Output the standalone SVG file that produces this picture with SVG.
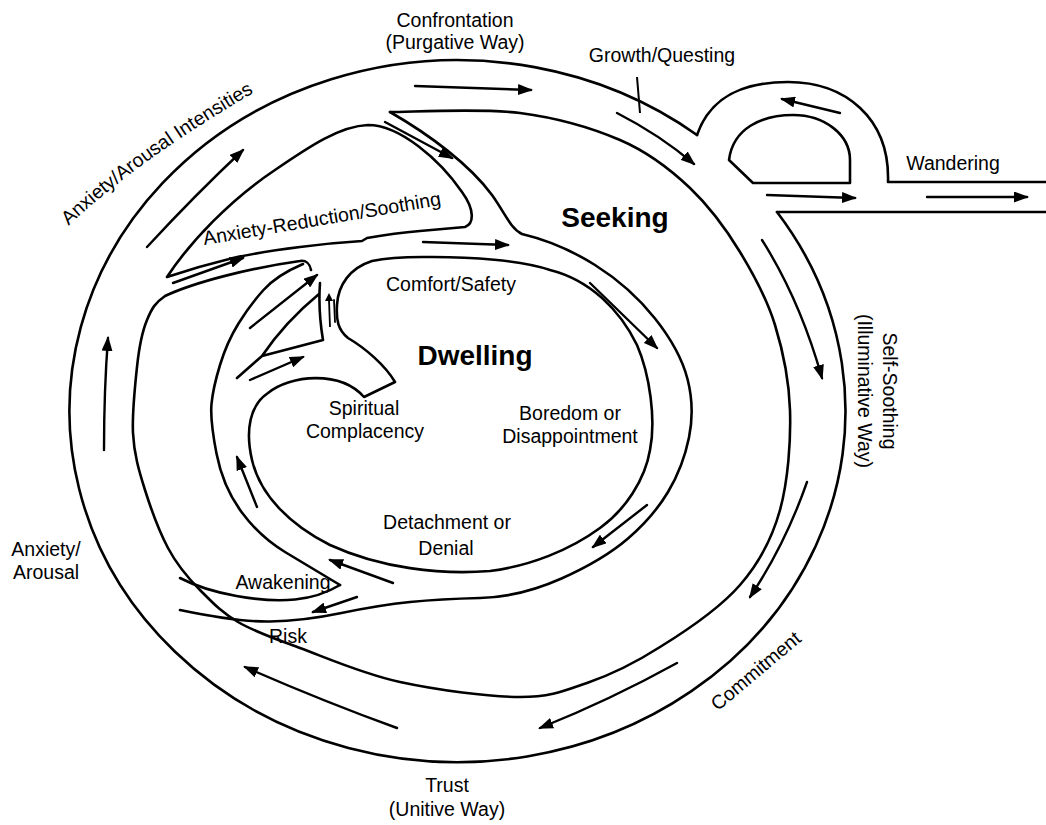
<svg xmlns="http://www.w3.org/2000/svg" width="1046" height="825" viewBox="0 0 1046 825">
<style>
.ln{fill:none;stroke:#000;stroke-width:2.6;stroke-linecap:round;stroke-linejoin:round}
.ar{fill:none;stroke:#000;stroke-width:2.4;stroke-linecap:round;marker-end:url(#ah)}
text{font-family:"Liberation Sans",Arial,sans-serif;font-size:19.5px;fill:#000;text-anchor:middle}
.b{font-weight:bold;font-size:28px}
</style>
<defs>
<marker id="ah" viewBox="0 0 15 11" refX="13" refY="5.5" markerWidth="15" markerHeight="11" markerUnits="userSpaceOnUse" orient="auto"><path d="M0,0 L15,5.5 L0,11 Z" fill="#000"/></marker>
<path id="tp1" d="M62,232 Q135,161 262,88"/>
</defs>
<rect width="1046" height="825" fill="#fff"/>

<g id="outer-track">
<path class="ln" d="M697,135 A388,351 0 1 0 777,212"/>
</g>
<g id="wandering">
<path class="ln" d="M697,135 C712,92 750,82 788,82 C845,82 890,118 888,182 L1046,182 M777,212 L1046,212"/>
<path class="ln" d="M753,183 L729,160 C733,128 762,115 793,115 C825,115 850,135 850,160 L850,183 Z"/>
</g>
<g id="seeking-ring">
<path class="ln" d="M390,112 C412,112 482,108 520,113 C558,118 592,128 620,140 C648,152 670,169 690,188 C710,207 726,229 740,252 C754,275 767,299 775,325 C783,351 789,379 790,410 C791,441 788,481 780,510 C772,539 760,562 740,585 C720,608 686,631 660,647 C635,663 610,675 587,683 C564,691 551,697 520,697 C489,697 437,690 400,682 C363,674 327,658 300,648 C273,638 255,632 238,622 C221,612 212,602 200,590 C188,578 177,565 168,548 C159,531 151,509 145,490 C139,471 134,454 133,433 C132,413 135,386 137,367 C139,348 142,332 147,320 C152,308 155,303 165,296 C195,282 250,268 300,261 C306,260 310,264 311,270"/>
</g>
<g id="channel">
<path class="ln" d="M390,112 C430,135 470,165 492,195 C505,213 510,228 522,234 Q560,243 595,265 Q630,287 655,318.5 Q680,350 687.5,379 Q695,408 689,437.5 Q683,467 668,492 Q653,517 628,538.5 Q603,560 561.5,578.5 Q520,597 480,598 Q440,599 410,602 Q380,605 341.5,613 Q303,621 270,621.5 Q237,622 180,610"/>
<path class="ln" d="M340,585 Q310,567 285,552 Q260,537 241.5,512 Q223,487 216.5,453.5 Q210,420 211.5,404 Q213,388 220,365 Q227,342 238.5,323.5 Q250,305 263.5,290 Q277,275 303,264"/>
<path class="ln" d="M180,578 Q203,590 236.5,596 Q270,602 295,599.5 Q320,597 340,585"/>
</g>
<g id="anxiety-reduction">
<path class="ln" d="M167,277 C190,242 230,200 275,170 C310,146 340,126 368,125 C400,125 440,160 462,192 C475,210 474,224 465,227 L420,231 Q395,233 367,238 L362,241 Q330,243 300,247 Q260,252 233,258 Q200,266 167,277 Z"/>
</g>
<g id="dwelling">
<path class="ln" d="M395,382 C385,365 365,348 348,338 C338,330 336,320 337,305 C338,285 350,268 372,261 C395,256 420,257 433,257 C470,257 520,260 550,270 C590,280 620,310 637,345 C650,375 656,420 650,450 C645,480 625,510 600,528 C570,550 530,566 490,571 C440,575 380,568 330,545 C290,525 260,495 252,460 C245,430 250,405 268,393 C290,375 340,370 364,397 Z"/>
</g>
<g id="complacency-branch">
<path class="ln" d="M320,283 Q318,310 323,340 L262,356 L237,378 M262,356 Q285,322 319,294"/>
<path class="ln" style="stroke-width:1.8" d="M335,322 L334,300"/>
</g>

<g id="connectors">
<path class="ar" d="M415,86 L531,90"/>
<path class="ar" d="M617,113 Q660,135 694,164"/>
<path class="ar" d="M840,113 L782,99"/>
<path class="ar" d="M767,195 L855,198"/>
<path class="ar" d="M927,197 L1027,197"/>
<path class="ar" d="M762,240 Q800,300 822,378"/>
<path class="ar" d="M807,482 Q785,545 750,597"/>
<path class="ar" d="M677,663 Q610,700 540,728"/>
<path class="ar" d="M397,728 Q320,700 245,667"/>
<path class="ar" d="M104,450 Q104,390 108,338"/>
<path class="ar" d="M147,247 Q195,195 243,150"/>
<path class="ar" d="M385,122 L452,158"/>
<path class="ar" d="M173,283 L243,258"/>
<path class="ar" d="M423,242 L508,245"/>
<path class="ar" d="M590,283 L657,348"/>
<path class="ar" d="M647,505 L593,547"/>
<path class="ar" d="M393,583 L330,560"/>
<path class="ar" d="M357,597 L313,612"/>
<path class="ar" d="M257,507 L237,457"/>
<path class="ar" d="M250,328 L317,275"/>
<path class="ar" d="M250,380 L303,357"/>
<path d="M330,327 L329,300" stroke="#000" stroke-width="1.8" fill="none"/>
<path d="M325,301 L329,293 L333,301 Z" fill="#000"/>
<path d="M637,77 L640,113" stroke="#000" stroke-width="2" fill="none"/>
</g>

<g id="labels">
<text x="455" y="27">Confrontation</text>
<text x="455" y="49">(Purgative Way)</text>
<text x="662" y="62">Growth/Questing</text>
<text x="953" y="170">Wandering</text>
<text x="615" y="227" class="b">Seeking</text>
<text x="475" y="365" class="b">Dwelling</text>
<text x="451" y="291">Comfort/Safety</text>
<text x="364" y="415">Spiritual</text>
<text x="365" y="438">Complacency</text>
<text x="570" y="420">Boredom or</text>
<text x="570" y="443">Disappointment</text>
<text x="447" y="529">Detachment or</text>
<text x="446" y="555">Denial</text>
<text x="283" y="589">Awakening</text>
<text x="288" y="643">Risk</text>
<text x="46" y="556">Anxiety/</text>
<text x="46" y="579">Arousal</text>
<text x="447" y="792">Trust</text>
<text x="447" y="816">(Unitive Way)</text>
<text transform="translate(760,676) rotate(-40)">Commitment</text>
<text transform="translate(883,391) rotate(90)">Self-Soothing</text>
<text transform="translate(858,391) rotate(90)">(Illuminative Way)</text>
<text transform="translate(323,225) rotate(-9.6)">Anxiety-Reduction/Soothing</text>
<text><textPath href="#tp1" startOffset="50%">Anxiety/Arousal Intensities</textPath></text>
</g>
</svg>
